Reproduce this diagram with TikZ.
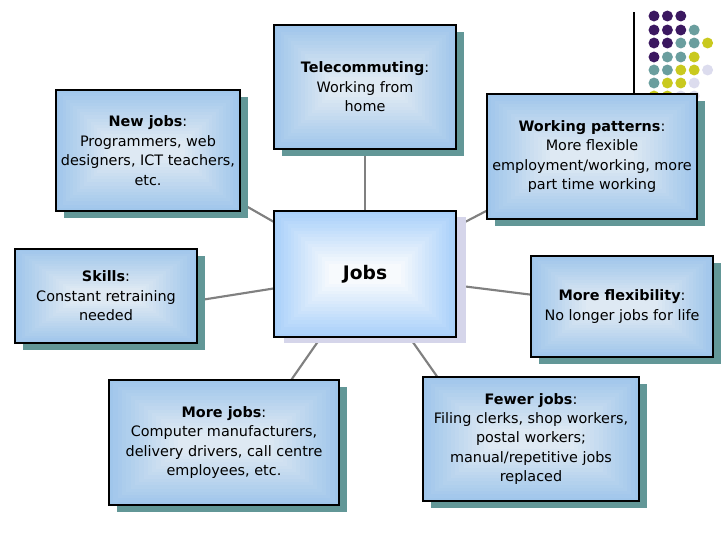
\documentclass[tikz,border=0pt]{standalone}
\usepackage{fontspec}
\setmainfont{DejaVu Sans}
\usetikzlibrary{calc}
\definecolor{edgeblue}{HTML}{A0C6EB}
\definecolor{centerblue}{HTML}{DEE9F3}
\definecolor{jedge}{HTML}{A9D0FA}
\definecolor{jcenter}{HTML}{F7FAFD}
\definecolor{shadowteal}{HTML}{629797}
\definecolor{shadowlav}{HTML}{D5D5EA}
\definecolor{dpurple}{HTML}{3B1860}
\definecolor{dteal}{HTML}{6A9E9E}
\definecolor{dyellow}{HTML}{C9C91E}
\definecolor{dlav}{HTML}{DCDCEE}
\definecolor{conn}{HTML}{808080}
\tikzset{
  x=0.75pt, y=-0.75pt,
  boxtext/.style={draw=black, line width=1pt, rectangle, inner sep=0pt, align=center,
    font=\fontsize{10.8}{14.6}\selectfont},
  connector/.style={draw=conn, line width=1.6pt},
  tshadow/.style={fill=shadowteal, shift={(8,7)}},
  lshadow/.style={fill=shadowlav, shift={(10,6)}},
  dot/.style={circle, inner sep=0pt, minimum size=8.2pt}
}
% #1 name, #2 x1, #3 y1, #4 x2, #5 y2, #6 shadow style, #7 edge, #8 centre, #9 text
\newcommand{\mkbox}[9]{%
  \fill[#6] (#2,#3) rectangle (#4,#5);
  \foreach \i in {0,...,16} {
    \pgfmathsetmacro{\ix}{(#4-#2)*0.30*\i/16}
    \pgfmathsetmacro{\iy}{(#5-#3)*0.42*\i/16}
    \pgfmathsetmacro{\pc}{100*\i/16}
    \fill[#8!\pc!#7] (#2+\ix,#3+\iy) rectangle (#4-\ix,#5-\iy);
  }
  \pgfmathsetmacro{\bw}{(#4-#2)*0.75}
  \pgfmathsetmacro{\bh}{(#5-#3)*0.75}
  \node[boxtext, minimum width=\bw pt, minimum height=\bh pt, #1style]
    (#1) at ({(#2+#4)/2},{(#3+#5)/2}) {#9};
}
\tikzset{telestyle/.style={}, newstyle/.style={}, wpstyle/.style={}, jobsstyle/.style={font=\fontsize{14}{17}\selectfont},
  skillsstyle/.style={}, flexstyle/.style={}, morestyle/.style={}, fewerstyle/.style={}}
\begin{document}
\begin{tikzpicture}
\useasboundingbox (0,0) rectangle (728,546);
\fill[white] (0,0) rectangle (728,546);
% decorative dots
\coordinate (vtop) at (634,12);
\coordinate (vbot) at (634,100);
\draw[black, line width=0.8pt] (vtop) -- (vbot);
\foreach \c [count=\k] in {dpurple,dpurple,dpurple} \node[dot, fill=\c] (da\k) at ({654+13.4*(\k-1)},16) {};
\foreach \c [count=\k] in {dpurple,dpurple,dpurple,dteal} \node[dot, fill=\c] (db\k) at ({654+13.4*(\k-1)},30) {};
\foreach \c [count=\k] in {dpurple,dpurple,dteal,dteal,dyellow} \node[dot, fill=\c] (dc\k) at ({654+13.4*(\k-1)},43) {};
\foreach \c [count=\k] in {dpurple,dteal,dteal,dyellow} \node[dot, fill=\c] (dd\k) at ({654+13.4*(\k-1)},57) {};
\foreach \c [count=\k] in {dteal,dteal,dyellow,dyellow,dlav} \node[dot, fill=\c] (de\k) at ({654+13.4*(\k-1)},70) {};
\foreach \c [count=\k] in {dteal,dyellow,dyellow,dlav} \node[dot, fill=\c] (df\k) at ({654+13.4*(\k-1)},83) {};
\foreach \c [count=\k] in {dyellow,dyellow,dlav,dlav} \node[dot, fill=\c] (dg\k) at ({654+13.4*(\k-1)},96) {};
% anchors for connectors (behind the boxes)
\coordinate (cjobs) at (365,274);
\coordinate (ctele) at (365,87);
\coordinate (cnew) at (148,150);
\coordinate (cwp) at (592,156);
\coordinate (cskills) at (106,315);
\coordinate (cflex) at (622,306);
\coordinate (cmore) at (248,442);
\coordinate (cfewer) at (481,439);
\draw[connector] (cjobs) -- (ctele);
\draw[connector] (cjobs) -- (cnew);
\draw[connector] (cjobs) -- (cwp);
\draw[connector] (cjobs) -- (cskills);
\draw[connector] (cjobs) -- (cflex);
\draw[connector] (cjobs) -- (cmore);
\draw[connector] (cjobs) -- (cfewer);
% boxes
\mkbox{tele}{274}{25}{456}{149}{tshadow}{edgeblue}{centerblue}{\textbf{Telecommuting}:\\Working from\\home}
\mkbox{new}{56}{90}{240}{211}{tshadow}{edgeblue}{centerblue}{\textbf{New jobs}:\\Programmers, web\\designers, ICT teachers,\\etc.}
\mkbox{wp}{487}{94}{697}{219}{tshadow}{edgeblue}{centerblue}{\textbf{Working patterns}:\\More flexible\\employment/working, more\\part time working}
\mkbox{jobs}{274}{211}{456}{337}{lshadow}{jedge}{jcenter}{\textbf{Jobs}}
\mkbox{skills}{15}{249}{197}{343}{tshadow}{edgeblue}{centerblue}{\textbf{Skills}:\\Constant retraining\\needed}
\mkbox{flex}{531}{256}{713}{357}{tshadow}{edgeblue}{centerblue}{\textbf{More flexibility}:\\No longer jobs for life}
\mkbox{more}{109}{380}{339}{505}{tshadow}{edgeblue}{centerblue}{\textbf{More jobs}:\\Computer manufacturers,\\delivery drivers, call centre\\employees, etc.}
\mkbox{fewer}{423}{377}{639}{501}{tshadow}{edgeblue}{centerblue}{\textbf{Fewer jobs}:\\Filing clerks, shop workers,\\postal workers;\\manual/repetitive jobs\\replaced}
\end{tikzpicture}
\end{document}
